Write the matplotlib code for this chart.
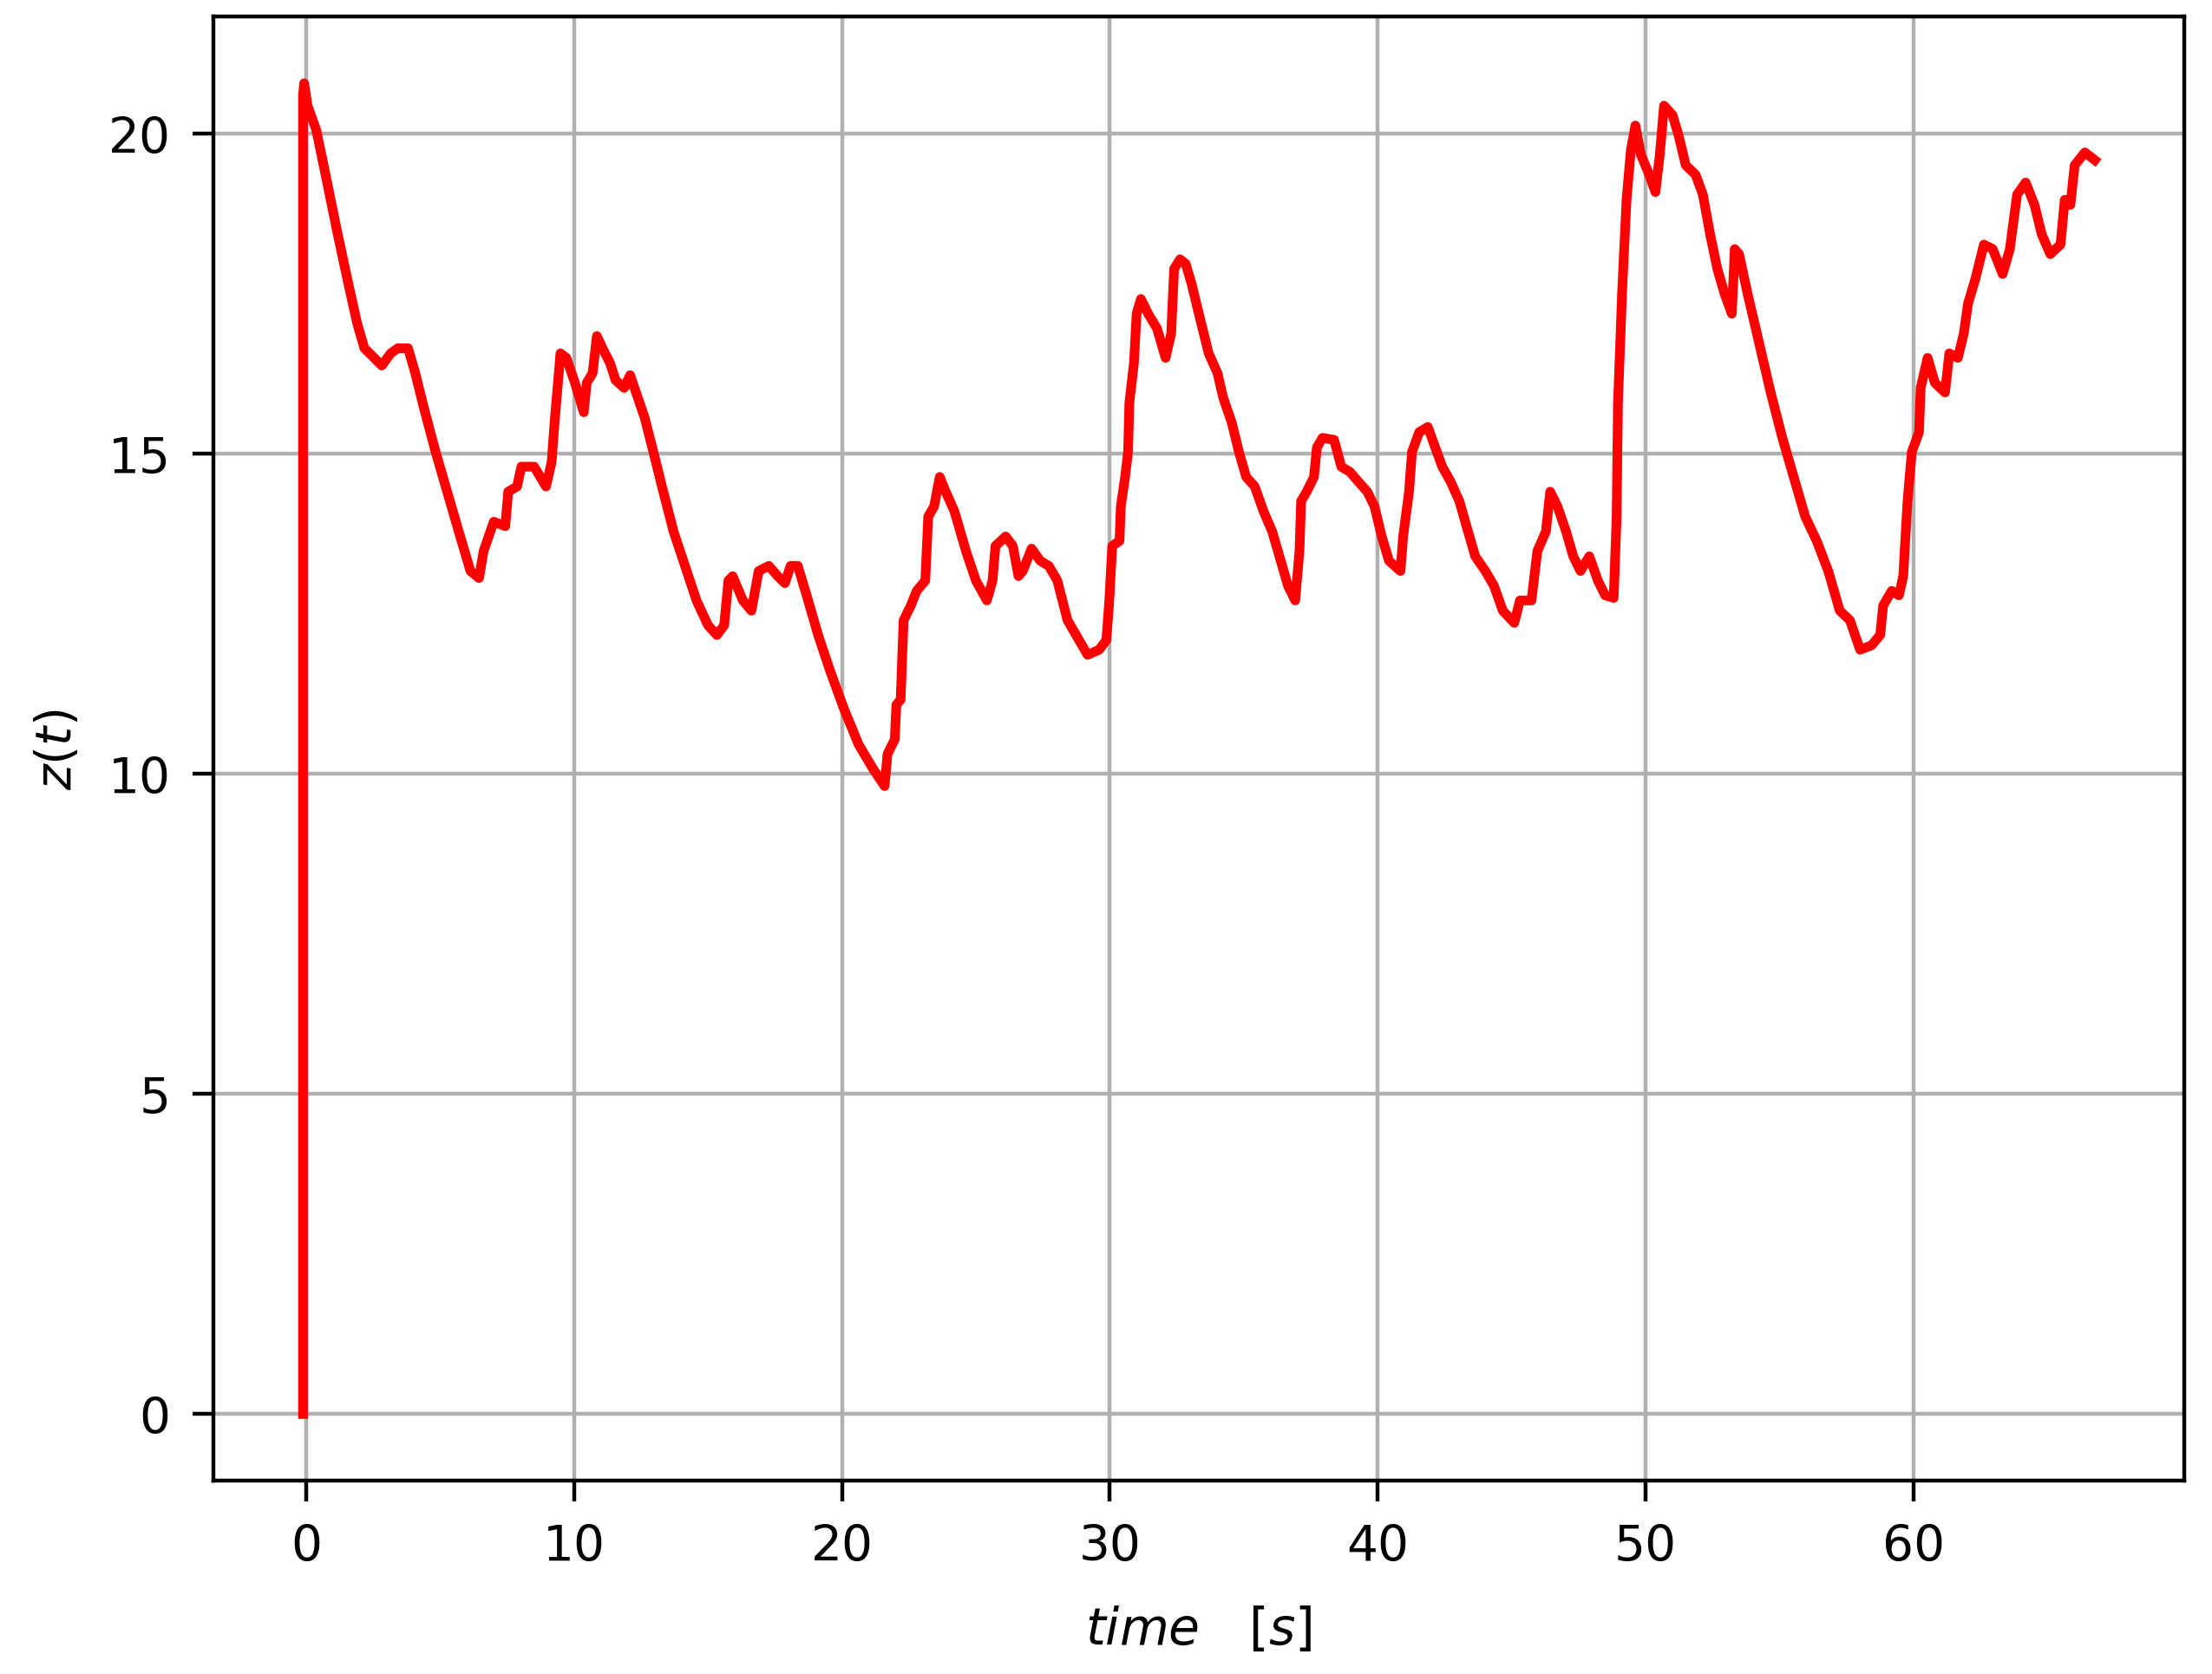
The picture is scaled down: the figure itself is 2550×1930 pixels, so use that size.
'''
--------------------------> SET UP ENVIRONMENT
'''

import matplotlib
matplotlib.use('Agg')
import matplotlib.pyplot as plt #plotting function


'''
--------------------------> DATA (read off the trace)
'''

time_s = [-0.12, -0.12, -0.08, 0.05, 0.38, 0.76, 1.14, 1.57, 1.9, 2.17, 2.44, 2.82, 3.15, 3.42, 3.8,
          4.07, 4.39, 4.83, 5.26, 5.69, 6.13, 6.45, 6.62, 7.0, 7.43, 7.54, 7.87, 8.03, 8.51, 8.95,
          9.16, 9.27, 9.49, 9.71, 10.03, 10.36, 10.47, 10.69, 10.85, 11.06, 11.34, 11.55, 11.87,
          12.09, 12.31, 12.63, 12.96, 13.28, 13.71, 14.14, 14.57, 15.0, 15.33, 15.6, 15.76, 15.92,
          16.3, 16.62, 16.89, 17.27, 17.6, 17.87, 18.08, 18.35, 18.68, 19.11, 19.54, 20.08, 20.62,
          21.16, 21.59, 21.7, 21.97, 22.03, 22.19, 22.3, 22.57, 22.79, 23.11, 23.22, 23.44, 23.65,
          23.87, 24.2, 24.63, 25.0, 25.41, 25.62, 25.73, 26.11, 26.38, 26.59, 26.75, 27.08, 27.4,
          27.72, 28.04, 28.42, 28.74, 29.17, 29.6, 29.87, 29.98, 30.09, 30.36, 30.41, 30.57, 30.68,
          30.73, 30.9, 31.0, 31.16, 31.43, 31.76, 32.08, 32.29, 32.4, 32.62, 32.83, 33.05, 33.37,
          33.69, 34.02, 34.23, 34.55, 34.82, 35.09, 35.41, 35.74, 36.06, 36.38, 36.65, 36.92, 37.08,
          37.14, 37.35, 37.62, 37.73, 37.94, 38.37, 38.64, 38.96, 39.29, 39.61, 39.88, 40.15, 40.42,
          40.85, 40.95, 41.17, 41.28, 41.55, 41.87, 42.08, 42.41, 42.73, 43.05, 43.37, 43.64, 44.02,
          44.34, 44.67, 45.1, 45.31, 45.74, 45.96, 46.28, 46.44, 46.71, 47.03, 47.3, 47.57, 47.9,
          48.22, 48.49, 48.81, 48.92, 48.97, 49.13, 49.29, 49.45, 49.62, 49.83, 50.1, 50.37, 50.53,
          50.69, 51.01, 51.23, 51.5, 51.87, 52.14, 52.41, 52.68, 52.95, 53.22, 53.33, 53.49, 53.81,
          54.24, 54.67, 55.1, 55.53, 55.96, 56.39, 56.82, 57.25, 57.63, 58.01, 58.44, 58.76, 58.87,
          59.19, 59.46, 59.62, 59.78, 59.94, 60.21, 60.27, 60.53, 60.8, 61.18, 61.34, 61.66, 61.88,
          62.04, 62.31, 62.63, 62.96, 63.33, 63.6, 63.87, 64.19, 64.52, 64.79, 65.11, 65.49, 65.65,
          65.86, 66.02, 66.4, 66.77]
z_t = [0.0, 20.6, 20.79, 20.44, 20.05, 19.28, 18.5, 17.66, 17.04, 16.65, 16.54, 16.38, 16.57, 16.65, 16.65,
       16.26, 15.72, 15.03, 14.41, 13.79, 13.17, 13.06, 13.48, 13.94, 13.87, 14.41, 14.49, 14.8, 14.8, 14.49,
       14.87, 15.49, 16.57, 16.5, 16.11, 15.65, 16.11, 16.26, 16.84, 16.65, 16.42, 16.15, 16.03,
       16.23, 15.96, 15.57, 15.03, 14.49, 13.79, 13.25, 12.71, 12.32, 12.17, 12.32, 13.02, 13.09,
       12.71, 12.55, 13.17, 13.25, 13.09, 12.98, 13.25, 13.25, 12.79, 12.17, 11.63, 11.01, 10.46,
       10.08, 9.81, 10.31, 10.54, 11.08, 11.16, 12.4, 12.63, 12.86, 13.02, 14.02, 14.18, 14.64,
       14.41, 14.1, 13.48, 13.02, 12.71, 13.02, 13.56, 13.71, 13.56, 13.09, 13.17, 13.52, 13.33,
       13.25, 13.02, 12.4, 12.17, 11.86, 11.94, 12.09, 12.71, 13.56, 13.64, 14.18, 14.64, 15.03,
       15.8, 16.42, 17.19, 17.42, 17.19, 16.96, 16.5, 16.88, 17.89, 18.04, 17.97, 17.66, 17.11,
       16.57, 16.26, 15.88, 15.49, 15.03, 14.64, 14.49, 14.1, 13.79, 13.33, 12.94, 12.71, 13.48,
       14.26, 14.41, 14.64, 15.1, 15.25, 15.22, 14.8, 14.72, 14.56, 14.41, 14.18, 13.71, 13.33,
       13.17, 13.71, 14.41, 15.03, 15.34, 15.42, 15.18, 14.8, 14.56, 14.26, 13.79, 13.4, 13.17,
       12.94, 12.55, 12.36, 12.71, 12.71, 13.48, 13.79, 14.41, 14.18, 13.79, 13.4, 13.17, 13.4,
       13.02, 12.79, 12.75, 14.02, 15.8, 17.58, 18.97, 19.74, 20.13, 19.67, 19.4, 19.09, 19.67,
       20.44, 20.29, 19.98, 19.51, 19.36, 19.05, 18.43, 17.89, 17.5, 17.19, 18.2, 18.12, 17.5,
       16.73, 15.96, 15.26, 14.64, 14.02, 13.64, 13.17, 12.55, 12.4, 11.94, 12.01, 12.17, 12.63,
       12.86, 12.79, 13.09, 14.26, 15.03, 15.34, 16.03, 16.5, 16.11, 15.96, 16.57, 16.5, 16.88,
       17.35, 17.73, 18.27, 18.2, 17.81, 18.2, 19.05, 19.24, 18.89, 18.43, 18.12, 18.27, 18.97,
       18.89, 19.51, 19.71, 19.59]

y_ticks = [0, 5, 10, 15, 20]
x_ticks = [0, 10, 20, 30, 40, 50, 60]


'''
--------------------------> MAKE PLOT
'''

fig = plt.figure(figsize=(6.375, 4.8275), dpi=400)
ax = fig.add_axes([0.0965, 0.1155, 0.891, 0.874])
ax.plot(time_s, z_t, 'r', lw=2.0)
ax.set_xticks(x_ticks)
ax.set_yticks(y_ticks)
ax.tick_params(length=4.4, pad=4.5, labelsize=10.2)
ax.grid(True)
ax.set_xlabel(r'$time\quad[s]$', fontsize=10.5, labelpad=7)
ax.set_ylabel(r'$z(t)$', fontsize=10.2, labelpad=5.5)
fig.savefig('out.png', dpi=400)
